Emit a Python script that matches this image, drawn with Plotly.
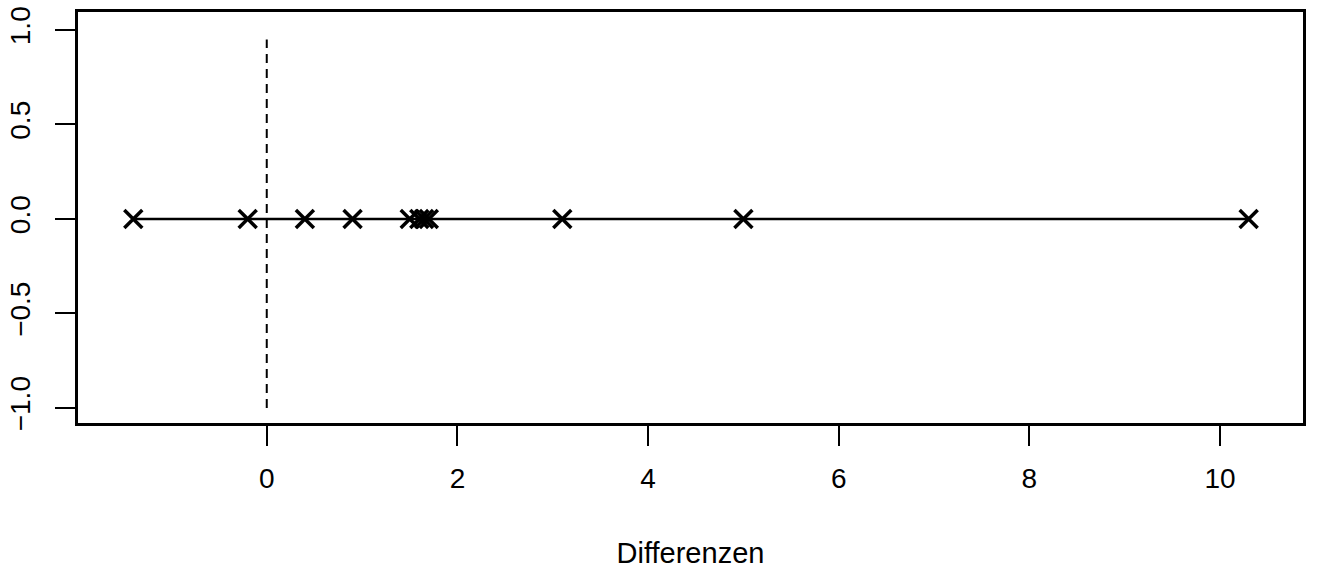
import plotly.graph_objects as go

# Differences plotted on a single line (dot strip)
differenzen = [-1.4, -0.2, 0.4, 0.9, 1.5, 1.6, 1.65, 1.7, 3.1, 5.0, 10.3]
x_ticks = [0, 2, 4, 6, 8, 10]
y_ticks = [-1.0, -0.5, 0.0, 0.5, 1.0]
y_tick_text = ["\u22121.0", "\u22120.5", "0.0", "0.5", "1.0"]

fig = go.Figure()

# baseline through all points
fig.add_trace(go.Scatter(
    x=[min(differenzen), max(differenzen)], y=[0, 0],
    mode="lines", line=dict(color="black", width=2.5),
    hoverinfo="skip", showlegend=False,
))

# reference line at zero difference
fig.add_trace(go.Scatter(
    x=[0, 0], y=[-1.0, 0.95],
    mode="lines", line=dict(color="black", width=2, dash="9px,6px"),
    hoverinfo="skip", showlegend=False,
))

fig.add_trace(go.Scatter(
    x=differenzen, y=[0] * len(differenzen),
    mode="markers",
    marker=dict(symbol="x-thin", size=18, line=dict(color="black", width=3.5)),
    showlegend=False,
))

tick_font = dict(family="Liberation Sans, Arial, sans-serif", size=28, color="black")
title_font = dict(family="Liberation Sans, Arial, sans-serif", size=29, color="black")

fig.update_layout(
    width=1320, height=576,
    margin=dict(l=78, r=17, t=12, b=153),
    paper_bgcolor="white", plot_bgcolor="white",
    font=tick_font,
    xaxis=dict(
        range=[-1.98, 10.87], tickvals=x_ticks, ticks="outside", ticklen=20,
        tickwidth=2, tickcolor="black", showgrid=False, zeroline=False,
        showline=True, linewidth=2.5, linecolor="black", mirror=True,
        tickfont=tick_font, ticklabelstandoff=9, automargin=False,
        title=dict(text="Differenzen", font=title_font, standoff=50),
    ),
    yaxis=dict(
        range=[-1.08, 1.095], tickvals=y_ticks, ticktext=y_tick_text,
        ticks="outside", ticklen=20, tickwidth=2, tickcolor="black",
        showgrid=False, zeroline=False, tickangle=-90,
        showline=True, linewidth=2.5, linecolor="black", mirror=True,
        tickfont=tick_font, ticklabelstandoff=14, automargin=False,
    ),
)

fig.write_html("out.html")
